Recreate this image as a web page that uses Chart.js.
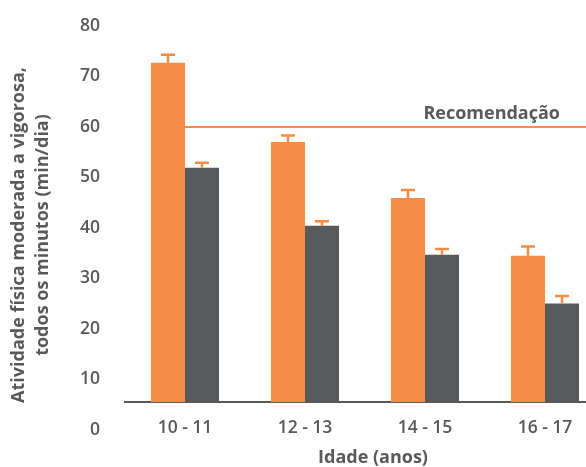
<!DOCTYPE html>
<html><head><meta charset="utf-8">
<script src="https://cdn.jsdelivr.net/npm/chart.js@4"></script>
<style>html,body{margin:0;padding:0;background:#fff;overflow:hidden}#wrap{width:586px;height:467px;position:relative;overflow:hidden}#inner{width:605px;height:467px;position:relative}</style>
</head><body><div id="wrap"><div id="inner"><canvas id="c"></canvas></div></div>
<script>
const categories = ['10 - 11', '12 - 13', '14 - 15', '16 - 17'];
const seriesOrange = [72.7, 57.0, 45.9, 34.5];
const seriesOrangeUpper = [74.3, 58.3, 47.5, 36.3];
const seriesGray = [51.9, 40.4, 34.7, 25.0];
const seriesGrayUpper = [52.9, 41.3, 35.8, 26.5];
const yTicks = [0, 10, 20, 30, 40, 50, 60, 70, 80];
const recommendation = 60;
const recommendationLabel = 'Recomendação';
const yTitle = ['Atividade física moderada a vigorosa,', 'todos os minutos (min/dia)'];
const xTitle = 'Idade (anos)';

const ORANGE = '#F68B46', GRAY = '#58595B', TEXT = '#58595B';
const FONT = "'Open Sans', sans-serif";

const extras = {
  id: 'extras',
  beforeDatasetsDraw(chart) {
    const ctx = chart.ctx, x = chart.scales.x, y = chart.scales.y;
    const yp = y.getPixelForValue(recommendation);
    ctx.save();
    ctx.strokeStyle = ORANGE; ctx.lineWidth = 2;
    ctx.beginPath(); ctx.moveTo(x.getPixelForValue(0), yp); ctx.lineTo(chart.width, yp); ctx.stroke();
    ctx.fillStyle = TEXT; ctx.font = 'bold 18px ' + FONT;
    ctx.textAlign = 'right'; ctx.textBaseline = 'middle';
    ctx.fillText(recommendationLabel, 560, yp - 13);
    ctx.restore();
  },
  afterDatasetsDraw(chart) {
    const ctx = chart.ctx, y = chart.scales.y;
    const uppers = [seriesOrangeUpper, seriesGrayUpper];
    ctx.save();
    ctx.strokeStyle = ORANGE; ctx.lineWidth = 2.5;
    chart.data.datasets.forEach((ds, di) => {
      chart.getDatasetMeta(di).data.forEach((bar, i) => {
        const yc = y.getPixelForValue(uppers[di][i]);
        ctx.beginPath();
        ctx.moveTo(bar.x, bar.y); ctx.lineTo(bar.x, yc);
        ctx.moveTo(bar.x - 7, yc); ctx.lineTo(bar.x + 7, yc);
        ctx.stroke();
      });
    });
    ctx.restore();
  },
  afterDraw(chart) {
    const ctx = chart.ctx;
    ctx.save();
    ctx.fillStyle = TEXT; ctx.font = 'bold 18px ' + FONT;
    ctx.textAlign = 'center'; ctx.textBaseline = 'middle';
    ctx.fillText(xTitle, 373, 458);
    ctx.translate(0, 235); ctx.rotate(-Math.PI / 2);
    ctx.fillText(yTitle[0], 0, 19);
    ctx.fillText(yTitle[1], 0, 43);
    ctx.restore();
  }
};

new Chart(document.getElementById('c'), {
  type: 'bar',
  data: {
    labels: categories,
    datasets: [
      { label: 'A', data: seriesOrange, backgroundColor: ORANGE, borderWidth: 0, categoryPercentage: 0.567, barPercentage: 1.0 },
      { label: 'B', data: seriesGray, backgroundColor: GRAY, borderWidth: 0, categoryPercentage: 0.567, barPercentage: 1.0 }
    ]
  },
  options: {
    responsive: true, maintainAspectRatio: false, animation: false,
    layout: { padding: { top: 26, right: 0, bottom: 0, left: 0 } },
    plugins: { legend: { display: false }, tooltip: { enabled: false } },
    scales: {
      x: {
        offset: true,
        grid: { display: false, drawTicks: false },
        border: { display: true, color: GRAY, width: 2 },
        ticks: { padding: 16, color: TEXT, font: { family: FONT, size: 17.5, weight: '600' } },
        afterFit: s => { s.height = 65; s.paddingLeft = 0; s.paddingRight = 0; }
      },
      y: {
        min: 5.5, max: 80,
        afterBuildTicks: s => { s.ticks = yTicks.map(v => ({ value: v })); },
        grid: { display: false, drawTicks: false },
        border: { display: false },
        ticks: { padding: 25, autoSkip: false, color: TEXT, font: { family: FONT, size: 17.5, weight: '600' } },
        afterFit: s => { s.width = 125; s.paddingTop = 0; s.paddingBottom = 0; }
      }
    }
  },
  plugins: [extras]
});
</script></body></html>
